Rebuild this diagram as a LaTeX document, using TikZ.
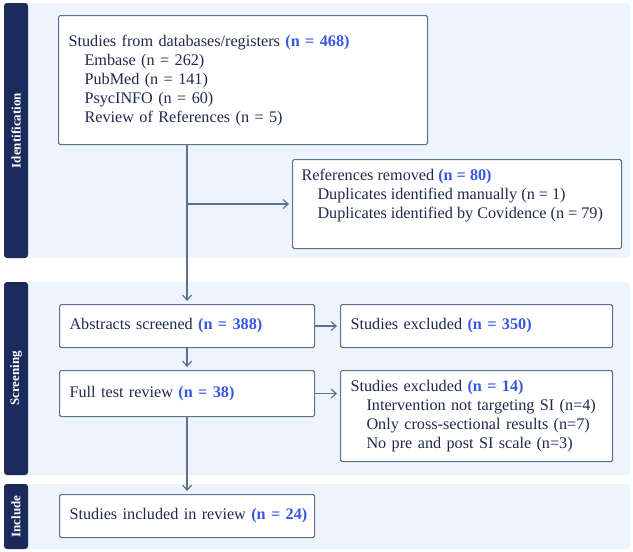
\documentclass[tikz,border=0pt]{standalone}
\usepackage{fontspec}
\setmainfont{Liberation Serif}
\usepackage{tikz}
\usetikzlibrary{arrows.meta,positioning,calc}
\definecolor{PrismaNavy}{HTML}{1B2A5C}
\definecolor{PrismaBand}{HTML}{EEF4FB}
\definecolor{PrismaLine}{HTML}{5E7190}
\definecolor{PrismaText}{HTML}{1F2B4D}
\definecolor{PrismaBlue}{HTML}{3856E6}
\newcommand{\nhl}[1]{\textcolor{PrismaBlue}{\textbf{(#1)}}}
\newcommand{\ind}{\hspace*{16pt}}

\begin{document}
\begin{tikzpicture}[
    x=1pt, y=-1pt,
    band/.style={
      fill=PrismaBand,
      rounded corners=3pt
    },
    side/.style={
      fill=PrismaNavy,
      rounded corners=3pt
    },
    sidetext/.style={
      rotate=90,
      text=white,
      font=\fontsize{13}{13}\selectfont\bfseries
    },
    box/.style={
      draw=PrismaLine,
      fill=white,
      line width=1.1pt,
      rounded corners=1.5pt,
      anchor=north west,
      align=left,
      inner xsep=10pt,
      text=PrismaText,
      font=\fontsize{16.2}{19}\selectfont
    },
    arrow/.style={
      -{Straight Barb[length=5pt,width=9pt]},
      line width=1.2pt,
      color=PrismaLine,
      shorten >=3pt
    }
  ]
  \useasboundingbox (0,0) rectangle (633,552);

  % Stage bands
  \fill[band] (4,3)   rectangle (630,258);
  \fill[band] (4,282) rectangle (630,475);
  \fill[band] (4,484) rectangle (630,549);
  \fill[side] (4,3)   rectangle (28,258);
  \fill[side] (4,282) rectangle (28,475);
  \fill[side] (4,484) rectangle (28,549);
  \node[sidetext] (idlab)  at (16,130.5) {Identification};
  \node[sidetext] (scrlab) at (16,378.5) {Screening};
  \node[sidetext] (inclab) at (16,516.5) {Include};

  % Identification
  \node[box, minimum width=369pt, minimum height=129pt, text width=349pt] (studies) at (58,15)
    {Studies from databases/registers \nhl{n = 468}\\
     \ind Embase (n = 262)\\
     \ind PubMed (n = 141)\\
     \ind PsycINFO (n = 60)\\
     \ind Review of References (n = 5)};
  \node[box, inner ysep=10pt, inner xsep=9pt] (refs) at (292,159)
    {\begin{minipage}[t][69pt][t]{311pt}References removed \nhl{n = 80}\\
     \ind Duplicates identified manually (n = 1)\\
     \ind Duplicates identified by Covidence (n = 79)\end{minipage}};

  % Screening
  \node[box, minimum width=255pt, minimum height=43pt, text width=235pt] (abs) at (59,304)
    {\mbox{Abstracts screened \nhl{n = 388}}};
  \node[box, minimum width=272pt, minimum height=43pt, text width=252pt] (ex1) at (340,304)
    {\mbox{Studies excluded \nhl{n = 350}}};
  \node[box, minimum width=255pt, minimum height=46pt, text width=235pt] (full) at (59,370)
    {\mbox{Full test review \nhl{n = 38}}};
  \node[box, minimum width=272pt, minimum height=91pt, text width=252pt] (ex2) at (340,370)
    {Studies excluded \nhl{n = 14}\\
     \ind Intervention not targeting SI (n=4)\\
     \ind Only cross-sectional results (n=7)\\
     \ind No pre and post SI scale (n=3)};

  % Include
  \node[box, minimum width=255pt, minimum height=43pt, text width=235pt] (incl) at (59,494)
    {\mbox{Studies included in review \nhl{n = 24}}};

  % Arrows
  \draw[arrow] (studies.south -| abs.north) -- (abs.north);
  \draw[arrow] (refs.west -| abs.north) -- (refs.west);
  \draw[arrow] (abs.east) -- (ex1.west);
  \draw[arrow] (abs.south) -- (full.north);
  \draw[arrow] (full.east) -- (full.east -| ex2.west);
  \draw[arrow] (full.south) -- (incl.north);

\end{tikzpicture}
\end{document}
